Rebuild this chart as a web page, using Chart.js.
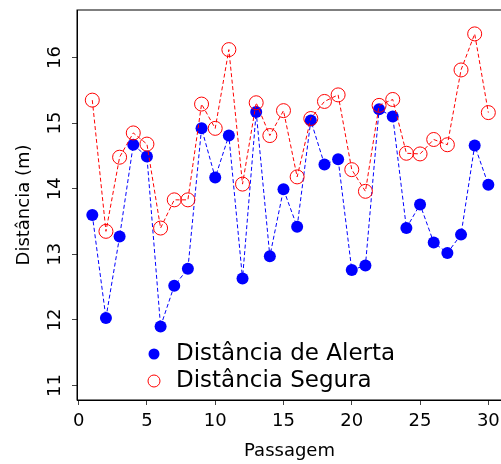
<!DOCTYPE html>
<html><head><meta charset="utf-8">
<script src="https://cdn.jsdelivr.net/npm/chart.js@4.4.1/dist/chart.umd.min.js"></script>
<style>html,body{margin:0;padding:0;background:#fff;overflow:hidden}#wrap{width:508px;height:464px}</style>
</head><body><div id="wrap"><canvas id="c" width="508" height="464"></canvas></div>
<script>
const passagem = [1,2,3,4,5,6,7,8,9,10,11,12,13,14,15,16,17,18,19,20,21,22,23,24,25,26,27,28,29,30];
const distanciaAlerta = [13.60,12.03,13.27,14.67,14.49,11.90,12.52,12.78,14.92,14.17,14.81,12.63,15.17,12.97,13.99,13.42,15.04,14.37,14.45,12.76,12.83,15.21,15.10,13.40,13.76,13.18,13.02,13.30,14.66,14.06];
const distanciaSegura = [15.35,13.35,14.48,14.85,14.68,13.40,13.83,13.83,15.29,14.92,16.12,14.07,15.31,14.81,15.19,14.18,15.07,15.33,15.43,14.29,13.96,15.27,15.36,14.54,14.53,14.75,14.67,15.81,16.36,15.16];
const xTicks = [0,5,10,15,20,25,30];
const yTicks = [11,12,13,14,15,16];
const seriesLabels = ['Distância de Alerta','Distância Segura'];
const xTitle = 'Passagem';
const yTitle = 'Distância (m)';

const FONT = "'DejaVu Sans', sans-serif";
Chart.defaults.font.family = FONT;
Chart.defaults.color = '#000';

const toPts = (ys) => passagem.map((x, i) => ({x: x, y: ys[i]}));

const frame = {
  id: 'frame',
  afterDraw(chart) {
    const {ctx, chartArea: a, scales} = chart;
    ctx.save();
    ctx.strokeStyle = '#000';
    ctx.lineWidth = 1;
    ctx.strokeRect(a.left, a.top, a.right - a.left, a.bottom - a.top);
    // rotated y tick labels
    ctx.fillStyle = '#000';
    ctx.font = "18px " + FONT;
    ctx.textAlign = 'center';
    ctx.textBaseline = 'alphabetic';
    scales.y.ticks.forEach(t => {
      const py = scales.y.getPixelForValue(t.value);
      ctx.save();
      ctx.translate(60, py);
      ctx.rotate(-Math.PI / 2);
      ctx.fillText(String(t.value), 0, 0);
      ctx.restore();
    });
    // legend
    const lx = a.left + 77, ly1 = 354, ly2 = 381;
    ctx.beginPath(); ctx.arc(lx, ly1, 5.5, 0, Math.PI * 2);
    ctx.fillStyle = '#0000ff'; ctx.fill();
    ctx.beginPath(); ctx.arc(lx, ly2, 6, 0, Math.PI * 2);
    ctx.strokeStyle = '#ff0000'; ctx.lineWidth = 1; ctx.stroke();
    ctx.fillStyle = '#000';
    ctx.font = "23px " + FONT;
    ctx.textAlign = 'left';
    ctx.textBaseline = 'middle';
    ctx.fillText(seriesLabels[0], lx + 22, ly1);
    ctx.fillText(seriesLabels[1], lx + 22, ly2);
    ctx.restore();
  }
};

new Chart(document.getElementById('c'), {
  type: 'line',
  data: {
    datasets: [
      {
        label: seriesLabels[0], data: toPts(distanciaAlerta), order: 1,
        borderColor: '#0000ff', borderWidth: 1, borderDash: [4, 2.5],
        pointRadius: 6, pointBackgroundColor: '#0000ff', pointBorderColor: '#0000ff', pointBorderWidth: 0,
        tension: 0, fill: false
      },
      {
        label: seriesLabels[1], data: toPts(distanciaSegura), order: 0,
        borderColor: '#ff0000', borderWidth: 1, borderDash: [4, 2.5],
        pointRadius: 7, pointBackgroundColor: 'rgba(0,0,0,0)', pointBorderColor: '#ff0000', pointBorderWidth: 1,
        tension: 0, fill: false
      }
    ]
  },
  options: {
    responsive: false, animation: false, devicePixelRatio: 1,
    layout: {autoPadding: false, padding: {top: 10, right: 6, left: 0, bottom: 0}},
    plugins: {legend: {display: false}, tooltip: {enabled: false}},
    scales: {
      x: {
        type: 'linear', min: -0.12, max: 31.0,
        afterBuildTicks: s => { s.ticks = xTicks.map(v => ({value: v})); },
        afterFit: s => { s.height = 64; s.paddingLeft = 0; s.paddingRight = 0; },
        grid: {display: true, drawOnChartArea: false, drawTicks: true, tickLength: 5, tickColor: '#444', tickWidth: 1},
        border: {display: true, color: '#000', width: 1},
        ticks: {font: {size: 18}, color: '#000', padding: 6, maxRotation: 0, includeBounds: false},
        title: {display: true, text: xTitle, font: {size: 18}, color: '#000', padding: {top: 0, bottom: 2}}
      },
      y: {
        type: 'linear', min: 10.779, max: 16.724,
        afterBuildTicks: s => { s.ticks = yTicks.map(v => ({value: v})); },
        afterFit: s => { s.width = 77; s.paddingTop = 0; s.paddingBottom = 0; },
        grid: {display: true, drawOnChartArea: false, drawTicks: true, tickLength: 5, tickColor: '#444', tickWidth: 1},
        border: {display: true, color: '#000', width: 1},
        ticks: {font: {size: 18}, color: 'rgba(0,0,0,0)', includeBounds: false},
        title: {display: true, text: yTitle, font: {size: 18}, color: '#000', padding: {top: 14, bottom: 0}}
      }
    }
  },
  plugins: [frame]
});
</script></body></html>
